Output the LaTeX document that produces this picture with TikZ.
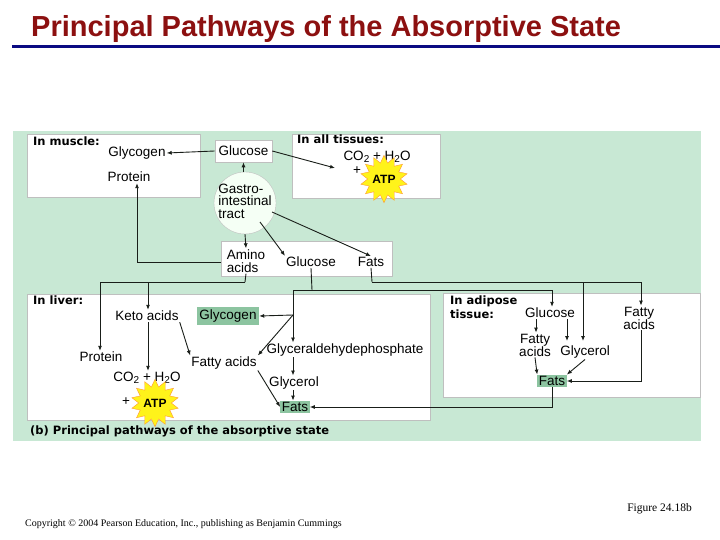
\documentclass[tikz,border=0pt]{standalone}
\usepackage{fontspec}
\setmainfont{Liberation Sans}
\newfontfamily\serif{Liberation Serif}
\newfontfamily\heavy{DejaVu Sans}
\usetikzlibrary{shapes.geometric,arrows.meta}
\definecolor{bg}{RGB}{200,232,212}
\definecolor{fillg}{RGB}{140,196,160}
\definecolor{ttl}{RGB}{140,16,16}
\definecolor{navy}{RGB}{10,10,130}
\definecolor{ln}{RGB}{25,30,25}
\newcommand{\sbs}[1]{\raisebox{-2.5pt}{\fontsize{10}{10}\selectfont #1}}
\tikzset{
  lbl/.style={font=\fontsize{13.5}{13.5}\selectfont, inner sep=1pt, align=center},
  hdr/.style={font=\heavy\fontsize{11.5}{13.5}\selectfont\bfseries, inner sep=0pt, anchor=north west, align=left},
  wbox/.style={draw=gray!50, fill=white, line width=0.6pt},
  gbox/.style={fill=fillg, inner sep=2.5pt, font=\fontsize{13.5}{13.5}\selectfont},
  con/.style={ln, line width=0.9pt},
  arr/.style={con, -{Latex[length=5pt,width=4pt]}},
  atp/.style={star, star points=14, star point ratio=1.45, fill=yellow!90!white, draw=orange!80, minimum size=28pt, inner sep=0pt, font=\fontsize{12}{12}\selectfont\bfseries}
}
\begin{document}
\begin{tikzpicture}[x=1pt,y=-1pt]
\useasboundingbox (0,0) rectangle (720,540);
\node[anchor=west, text=ttl, font=\fontsize{29}{30}\selectfont\bfseries, inner sep=0pt] (title) at (31,29) {Principal Pathways of the Absorptive State};
\draw[navy, line width=3pt] (12,47) -- (720,47);
% background
\fill[bg] (13,131) rectangle (701,441);
% boxes
\draw[wbox] (27,134) rectangle (200,197);
\draw[wbox] (292,134) rectangle (440,198);
\draw[wbox] (221,241) rectangle (392,276);
\draw[wbox] (27,294) rectangle (430,420);
\draw[wbox] (443,293) rectangle (700,397);
\node[wbox, minimum width=57pt, minimum height=22pt, inner sep=0pt, font=\fontsize{13.5}{13.5}\selectfont] (glcb) at (243.5,151) {Glucose};
\node[circle, draw=gray!50, fill=green!4, minimum size=62pt, inner sep=0pt] (gi) at (245,203) {};
\node[font=\fontsize{13.5}{12.5}\selectfont, align=left, inner sep=0pt] (gitxt) at (245,201) {Gastro-\\intestinal\\tract};
% muscle
\node[hdr] (hm) at (33,137) {In muscle:};
\node[lbl] (mgly) at (137,153) {Glycogen};
\node[lbl] (mpro) at (129,177) {Protein};
% all tissues
\node[hdr] (ha) at (297,135) {In all tissues:};
\node[lbl] (aco) at (377,157) {CO\sbs{2} + H\sbs{2}O};
\node[lbl] (aplus) at (357,171) {+};
\node[atp] (aatp) at (384,179) {ATP};
\coordinate (ain) at (335,168);
% intermediate
\node[lbl, align=left, font=\fontsize{13.5}{13}\selectfont] (amino) at (246,261) {Amino\\acids};
\node[lbl] (glc2) at (311,262) {Glucose};
\node[lbl] (fat2) at (371,262) {Fats};
% liver
\node[hdr] (hl) at (33,296) {In liver:};
\node[lbl] (keto) at (147,316) {Keto acids};
\node[gbox] (lgly) at (228,316) {Glycogen};
\node[lbl] (lpro) at (101,357) {Protein};
\node[lbl] (lfa) at (224,363) {Fatty acids};
\node[lbl] (gap) at (345,350) {Glyceraldehydephosphate};
\node[lbl] (lco) at (147,378) {CO\sbs{2} + H\sbs{2}O};
\node[lbl] (lplus) at (126,402) {+};
\node[atp] (latp) at (155,403) {ATP};
\node[lbl] (lgcl) at (294,383) {Glycerol};
\node[gbox, inner sep=1.5pt] (lfat) at (295,407) {Fats};
% adipose
\node[hdr] (had) at (450,296) {In adipose\\tissue:};
\node[lbl] (dglc) at (550,313) {Glucose};
\node[lbl, font=\fontsize{13.5}{13}\selectfont] (dfa2) at (639,318) {Fatty\\acids};
\node[lbl, font=\fontsize{13.5}{13}\selectfont] (dfa) at (535,345) {Fatty\\acids};
\node[lbl] (dgcl) at (585,352) {Glycerol};
\node[gbox, inner sep=1.5pt] (dfat) at (552,381) {Fats};
\node[font=\heavy\fontsize{11.5}{13}\selectfont\bfseries, anchor=west, inner sep=0pt] (cap) at (30,431) {(b) Principal pathways of the absorptive state};
% connectors
\draw[arr] (glcb.west) -- (mgly.east);
\draw[arr] (glcb.east) -- (ain);
\draw[arr] (gi.north -| glcb) -- (glcb.south);
\draw[arr] (gi.south) -- (amino.north);
\draw[arr] (260,222) -- (glc2.north west);
\draw[arr] (272,212) -- (fat2.north);
\draw[arr] (221,262) -| (mpro.south -| 137,0);
\coordinate (j1) at (245,282);
\coordinate (j2) at (148,282);
\draw[con] (amino.south) -- (j1);
\draw[arr] (j1) -| (lpro.north -| 100,0);
\draw[arr] (j2) -- (keto.north -| j2);
\draw[arr] (keto.south -| j2) -- (lco.north -| j2);
\draw[arr] (keto.south east) -- (lfa.north west);
\coordinate (g1) at (312,290);
\coordinate (g2) at (293,290);
\coordinate (g3) at (293,315);
\draw[con] (glc2.south) -- (g1);
\draw[con] (g2) -- (552,290);
\draw[arr] (552,290) -- (dglc.north -| 552,0);
\draw[arr] (g2) -- (gap.north -| g2);
\draw[arr] (g3) -- (lgly.east);
\draw[arr] (g3) -- (lfa.north east);
\coordinate (f1) at (372,282);
\draw[con] (fat2.south) -- (f1);
\draw[arr] (f1) -| (dfa2.north -| 641,0);
\draw[arr] (583,282) -- (583,341);
\draw[arr] (lfa.south east) -- (lfat.west);
\draw[arr] (gap.south -| g2) -- (lgcl.north -| g2);
\draw[arr] (lgcl.south -| g2) -- (lfat.north -| g2);
\draw[arr] (dglc.south -| 536,0) -- (dfa.north -| 536,0);
\draw[arr] (dglc.south -| 567,0) -- (567,341);
\draw[arr] (dfa.south) -- (dfat.north west);
\draw[arr] (dgcl.south) -- (dfat.north east);
\draw[arr] (dfa2.south -| 641,0) |- (dfat.east);
\draw[arr] (dfat.south) |- (lfat.east);
% footer
\node[anchor=east, font=\serif\fontsize{11.5}{13}\selectfont, inner sep=0pt] (fig) at (692,509) {Figure 24.18b};
\node[anchor=west, font=\serif\fontsize{10}{11}\selectfont, inner sep=0pt] (copy) at (25,524) {Copyright © 2004 Pearson Education, Inc., publishing as Benjamin Cummings};
\end{tikzpicture}
\end{document}
